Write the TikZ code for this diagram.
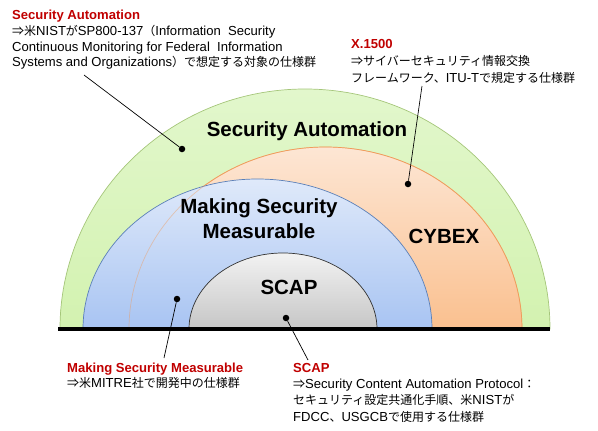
\documentclass[tikz,border=0pt]{standalone}
\usepackage{fontspec}
\setmainfont{Liberation Sans}
\newfontfamily\notefont{Liberation Sans}[Scale=1.09]
\newfontfamily\jp{Noto Sans CJK JP}
\usepackage{xcolor}
\usetikzlibrary{positioning}

\definecolor{headred}{HTML}{C00000}
\definecolor{greentop}{HTML}{E2F7CC}
\definecolor{greenbot}{HTML}{D3F2B0}
\definecolor{greenline}{HTML}{A5C67A}
\definecolor{orangetop}{HTML}{FDE6D4}
\definecolor{orangebot}{HTML}{FAC08F}
\definecolor{orangeline}{HTML}{F09A5A}
\definecolor{bluetop}{HTML}{DFE9FA}
\definecolor{bluebot}{HTML}{A8C4F2}
\definecolor{blueline}{HTML}{5A7FB8}
\definecolor{graytop}{HTML}{F2F2F2}
\definecolor{graybot}{HTML}{C6C6C6}
\definecolor{grayline}{HTML}{333333}

\begin{document}
\begin{tikzpicture}[x=1pt, y=-1pt,
      band/.style={line width=0.7pt},
      dot/.style={circle, fill=black, inner sep=0pt, minimum size=6.5pt},
      ring/.style={font=\fontsize{20.5}{25}\selectfont\bfseries,
                   align=center, inner sep=0pt},
      note/.style={font=\notefont\fontsize{12}{15.7}\selectfont, align=left,
                   anchor=north west, inner sep=0pt},
      lead/.style={line width=0.7pt},
    ]

    \useasboundingbox (0,0) rectangle (598,431);

    % Half rings, outer to inner
    \shade[band, draw=greenline, top color=greentop, bottom color=greenbot]
      (60,329) arc[start angle=180, end angle=0, x radius=245pt, y radius=240pt] -- cycle;
    \shade[band, draw=orangeline, top color=orangetop, bottom color=orangebot]
      (129,329) arc[start angle=180, end angle=0, x radius=196.5pt, y radius=182pt] -- cycle;
    \shade[band, draw=blueline, top color=bluetop, bottom color=bluebot]
      (83,329) arc[start angle=180, end angle=0, x radius=174.5pt, y radius=150pt] -- cycle;
    \draw[band, draw=orangeline, draw opacity=0.45]
      (129,329) arc[start angle=180, end angle=0, x radius=196.5pt, y radius=182pt];
    \shade[band, draw=grayline, top color=graytop, bottom color=graybot]
      (189,329) arc[start angle=180, end angle=0, x radius=94pt, y radius=76pt] -- cycle;

    % Base line
    \draw[line width=4pt] (58,329) -- (550,329);

    % Ring labels
    \node[ring] (sa)    at (307,131) {Security Automation};
    \node[ring] (msm)   at (259,219) {Making Security\\Measurable};
    \node[ring] (cybex) at (444,236) {CYBEX};
    \node[ring] (scap)  at (289,287) {SCAP};

    % Dots
    \node[dot] (saDot)    at (182,149) {};
    \node[dot] (cybexDot) at (408,184) {};
    \node[dot] (msmDot)   at (177,299) {};
    \node[dot] (scapDot)  at (286,318) {};

    % Notes
    \node[note] (saNote) at (12,10)
      {{\color{headred}\bfseries Security Automation}\\
       {\jp ⇒米}NIST{\jp が}SP800-137{\jp （}Information~ Security\\
       Continuous Monitoring for Federal~ Information\\
       Systems and Organizations{\jp ）で想定する対象の仕様群}};
    \node[note, font=\notefont\fontsize{12}{17}\selectfont] (cybexNote) at (351,39)
      {{\color{headred}\bfseries X.1500}\\
       {\jp ⇒サイバーセキュリティ情報交換}\\
       {\jp フレームワーク、}ITU-T{\jp で規定する仕様群}};
    \node[note, font=\notefont\fontsize{12}{15}\selectfont] (msmNote) at (67,363)
      {{\color{headred}\bfseries Making Security Measurable}\\
       {\jp ⇒米}MITRE{\jp 社で開発中の仕様群}};
    \node[note, font=\notefont\fontsize{12}{16.3}\selectfont] (scapNote) at (293,363)
      {{\color{headred}\bfseries SCAP}\\
       {\jp ⇒}Security Content Automation Protocol{\jp ：}\\
       {\jp セキュリティ設定共通化手順、米}NIST{\jp が}\\
       FDCC{\jp 、}USGCB{\jp で使用する仕様群}};

    % Lead ends
    \coordinate (saEnd)    at (84,75);
    \coordinate (cybexEnd) at (422,86);
    \coordinate (msmEnd)   at (164,358);
    \coordinate (scapEnd)  at (308,360);

    % Leads
    \draw[lead] (saDot) -- (saEnd);
    \draw[lead] (cybexDot) -- (cybexEnd);
    \draw[lead] (msmDot) -- (msmEnd);
    \draw[lead] (scapDot) -- (scapEnd);

    \end{tikzpicture}
\end{document}
